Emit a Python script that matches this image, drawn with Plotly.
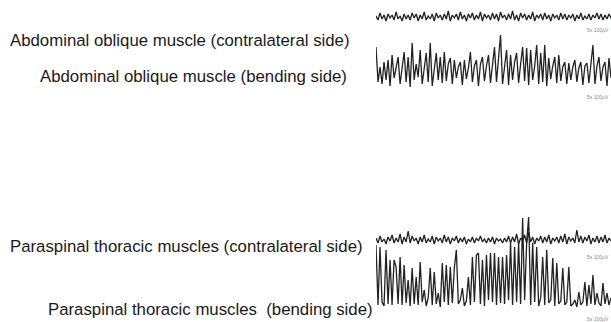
import plotly.graph_objects as go

# EMG traces, amplitude values (arbitrary units, up = positive)
abd_contra = [1,-3,4,-2,2,-4,3,-1,2,-3,5,-2,1,-4,3,-2,2,-3,4,-1,3,-4,2,-2,5,-3,1,-2,3,-4,
              4,-1,2,-3,3,-2,6,-4,2,-1,3,-3,5,-2,2,-4,3,-1,4,-3,2,-2,5,-4,3,-1,2,-3,4,-2,
              3,-4,5,-1,2,-3,3,-2,6,-3,2,-4,4,-1,3,-3,2,-2,5,-4,2,-1,3,-3,4,-2,2,-4,3,-1,
              2,-3,4,-2,3,-3,2,-1,3,-4,2,-2,4,-3,1,-2,3,-3,2,-1,4,-2,3,-3,2,-2,3,-1,2,-3]

abd_bend = [25,-10,5,-12,10,-8,12,-14,17,-6,4,15,-12,6,20,-10,15,-15,29,-8,
            8,-5,22,-12,5,19,-10,29,-14,6,19,-8,15,-11,20,-9,8,14,-12,12,
            -6,5,10,-13,12,-7,4,20,-10,6,12,-14,8,15,-9,6,17,-11,8,25,
            -10,10,37,-12,6,22,-13,17,-8,10,19,-11,8,25,-9,24,-13,22,-8,6,
            27,-12,19,-10,27,-14,14,-7,6,15,-11,17,-9,5,10,-12,9,-8,5,12,
            -10,4,10,-13,6,9,-11,5,27,-12,6,15,-9,5,10,-14,14,-6]

para_contra = [2,-3,4,-2,1,-4,3,-1,5,-3,2,-2,6,-4,3,-2,9,-3,4,-1,2,-4,3,-2,5,-3,1,-2,4,-4,
               3,-1,2,-3,5,-2,3,-4,2,-1,4,-3,2,-2,3,-4,1,-2,3,-3,2,-1,4,-2,1,-3,2,-2,3,-4,
               2,-1,1,-3,2,-2,4,-3,3,-2,6,-4,2,-1,5,-3,8,-2,3,-4,2,-1,4,-3,3,-2,5,-4,2,-1,
               3,-3,4,-2,6,-4,3,-1,2,-3,10,-2,4,-3,3,-1,5,-4,2,-2,4,-3,3,-2,5,-3,2,-1]

para_bend = [65,5,63,8,4,60,6,50,5,50,43,6,53,5,45,7,30,4,42,6,
             33,5,48,8,20,4,12,42,5,38,6,17,3,47,8,45,5,43,7,42,
             60,6,10,22,4,9,33,5,53,8,55,57,6,50,4,55,10,57,8,57,
             5,53,7,53,6,55,10,67,5,63,8,67,6,92,10,67,93,5,67,8,
             63,4,12,53,5,60,7,10,52,4,47,6,9,42,5,8,43,4,6,10,
             3,18,5,8,28,4,25,6,35,5,17,7,4,27,6,17,5,12]

labels = ["Abdominal oblique muscle (contralateral side)",
          "Abdominal oblique muscle (bending side)",
          "Paraspinal thoracic muscles (contralateral side)",
          "Paraspinal thoracic muscles  (bending side)"]
scale_label = "5s 100µV"

W, H = 611, 322
series = [abd_contra, abd_bend, para_contra, para_bend]
# (top px, bottom px, baseline px) for each strip
strips = [(2, 32, 17), (28, 100, 72), (205, 262, 240), (208, 322, 310)]
label_pos = [(8, 40), (38, 77), (8, 247), (46, 309)]
scale_y = [30, 97, 257, 319]

fig = go.Figure()
layout = dict(width=W, height=H, margin=dict(l=0, r=0, t=0, b=0),
              paper_bgcolor="white", plot_bgcolor="rgba(0,0,0,0)", showlegend=False)
layout["xaxis"] = dict(domain=[376 / W, 1], range=[0, len(para_bend) - 1],
                       visible=False, anchor="y4")
for k, (vals, (pt, pb, c)) in enumerate(zip(series, strips)):
    yname = "y" if k == 0 else f"y{k+1}"
    lname = "yaxis" if k == 0 else f"yaxis{k+1}"
    fig.add_trace(go.Scatter(x=list(range(len(vals))), y=vals, mode="lines",
                             line=dict(color="#222222", width=1.3),
                             xaxis="x", yaxis=yname, hoverinfo="skip"))
    layout[lname] = dict(domain=[1 - pb / H, 1 - pt / H], range=[c - pb, c - pt],
                         visible=False, anchor="x")

ann = []
for text, (x, y) in zip(labels, label_pos):
    ann.append(dict(text=text, x=x / W, y=1 - y / H, xref="paper", yref="paper",
                    xanchor="left", yanchor="middle", showarrow=False,
                    font=dict(family="Liberation Sans, Arial", size=16.8, color="#1a1a1a")))
for y in scale_y:
    ann.append(dict(text=scale_label, x=1, y=1 - y / H, xref="paper", yref="paper",
                    xanchor="right", yanchor="middle", showarrow=False,
                    font=dict(family="Liberation Sans, Arial", size=5, color="#8a8a8a")))
layout["annotations"] = ann
fig.update_layout(**layout)
fig.write_html("out.html", config={"displayModeBar": False},
               post_script="document.body.style.margin='0';document.body.style.overflow='hidden';")
